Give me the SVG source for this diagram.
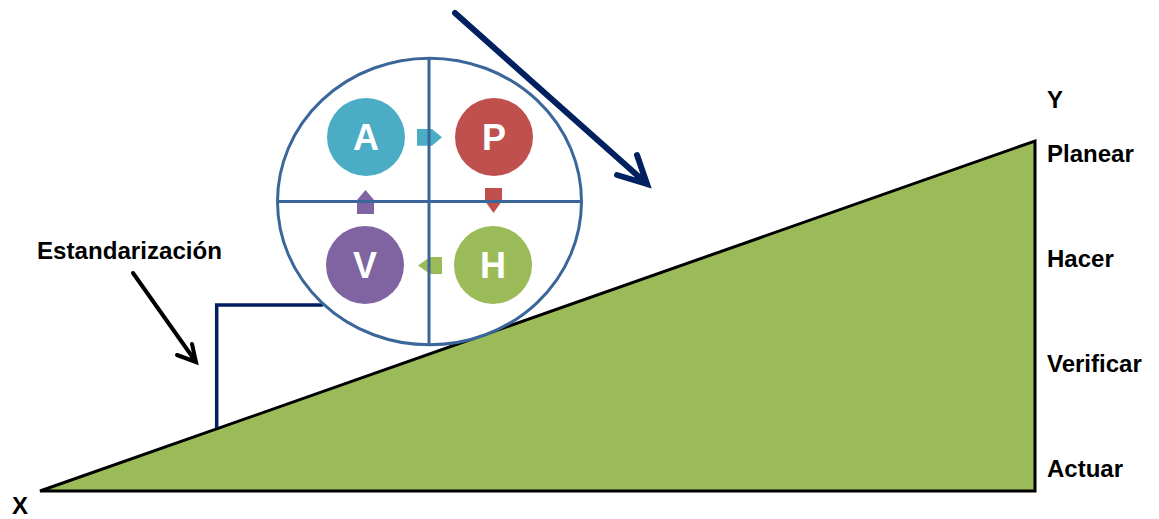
<svg xmlns="http://www.w3.org/2000/svg" width="1159" height="519" viewBox="0 0 1159 519">
  <style>
    .lbl { font-family: "Liberation Sans", Arial, sans-serif; font-weight: bold; font-size: 24px; fill: #000; }
    .let { font-family: "Liberation Sans", Arial, sans-serif; font-weight: bold; font-size: 36px; fill: #fff; text-anchor: middle; }
    .frame { stroke: #3B6699; stroke-width: 3; fill: none; }
    .navy { stroke: #002060; fill: none; }
  </style>
  <rect width="1159" height="519" fill="#fff"/>

  <g id="ramp">
    <polygon points="40,491 1035,141 1035,491" fill="#9BBB59" stroke="#000" stroke-width="3" stroke-linejoin="miter"/>
  </g>

  <g id="connectors">
    <path id="bracket" class="navy" stroke-width="3.5" d="M216.7,428 V305 H323"/>
    <path id="big-arrow" class="navy" stroke-width="6" stroke-linecap="round" stroke-linejoin="miter" d="M455,13 L647,184 M617,175 L647,184 L637,155"/>
    <path id="std-arrow" stroke="#000" fill="none" stroke-width="4" stroke-linecap="round" d="M133,273 L196,362 M177,355 L196,362 L192,344"/>
  </g>

  <g id="cycle">
    <ellipse cx="429.5" cy="201.5" rx="152" ry="143.3" fill="#fff"/>
    <g id="cycle-arrows">
      <polygon points="417,129 432,129 442,137.3 432,145.7 417,145.7" fill="#4BACC6"/>
      <polygon points="485,188 502,188 502,201 493.5,213 485,201" fill="#C0504D"/>
      <polygon points="418,265.5 430,257 442,257 442,274 430,274" fill="#9BBB59"/>
      <polygon points="365.5,190 374,200 374,214 357,214 357,200" fill="#8064A2"/>
    </g>
    <line class="frame" x1="429" y1="58" x2="429" y2="345"/>
    <line class="frame" x1="277.5" y1="201.5" x2="581.5" y2="201.5"/>
    <ellipse class="frame" cx="429.5" cy="201.5" rx="152" ry="143.3"/>
  </g>

  <g id="node-A">
    <circle cx="366" cy="137" r="39" fill="#4BACC6"/>
    <text class="let" x="366" y="150">A</text>
  </g>
  <g id="node-P">
    <circle cx="494" cy="137" r="39" fill="#C0504D"/>
    <text class="let" x="494" y="150">P</text>
  </g>
  <g id="node-H">
    <circle cx="493" cy="265" r="39" fill="#9BBB59"/>
    <text class="let" x="493" y="278">H</text>
  </g>
  <g id="node-V">
    <circle cx="365" cy="265" r="39" fill="#8064A2"/>
    <text class="let" x="365" y="278">V</text>
  </g>

  <g id="labels">
    <text class="lbl" x="37" y="259" textLength="185" lengthAdjust="spacingAndGlyphs">Estandarización</text>
    <text class="lbl" x="12" y="514">X</text>
    <text class="lbl" x="1047" y="108">Y</text>
    <text class="lbl" x="1047" y="162">Planear</text>
    <text class="lbl" x="1047" y="267">Hacer</text>
    <text class="lbl" x="1047" y="372">Verificar</text>
    <text class="lbl" x="1047" y="477">Actuar</text>
  </g>
</svg>
